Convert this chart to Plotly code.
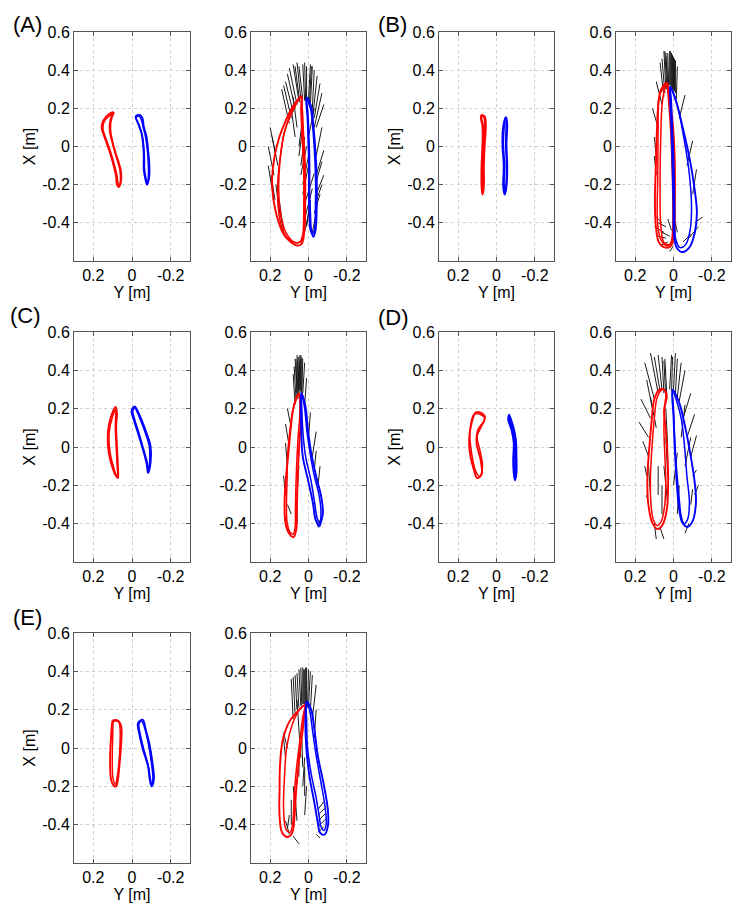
import plotly.graph_objects as go

# ---------------- data (Y [m], X [m]) ----------------
A_left_red = [
    [[0.096,0.179],[0.125,0.165],[0.151,0.130],[0.157,0.096],[0.143,0.052],[0.125,0.0],[0.108,-0.052],[0.094,-0.104],[0.082,-0.157],[0.078,-0.200],[0.068,-0.212],[0.057,-0.183],[0.057,-0.130],[0.068,-0.087],[0.082,-0.043],[0.099,0.017],[0.111,0.078],[0.111,0.122],[0.103,0.157]],
    [[0.093,0.175],[0.118,0.160],[0.145,0.128],[0.150,0.092],[0.138,0.050],[0.120,0.000],[0.104,-0.050],[0.090,-0.100],[0.078,-0.150],[0.072,-0.192],[0.064,-0.205],[0.060,-0.178],[0.062,-0.128],[0.072,-0.085],[0.086,-0.040],[0.102,0.020],[0.116,0.082],[0.115,0.125],[0.106,0.160]],
]
A_left_blue = [
    [[-0.040,0.165],[-0.019,0.157],[-0.031,0.122],[-0.049,0.070],[-0.057,0.017],[-0.061,-0.052],[-0.061,-0.122],[-0.070,-0.174],[-0.078,-0.200],[-0.089,-0.157],[-0.089,-0.087],[-0.083,-0.017],[-0.075,0.052],[-0.061,0.104],[-0.054,0.148]],
    [[-0.036,0.160],[-0.022,0.150],[-0.036,0.115],[-0.052,0.065],[-0.060,0.010],[-0.064,-0.055],[-0.065,-0.120],[-0.073,-0.170],[-0.080,-0.193],[-0.085,-0.150],[-0.084,-0.085],[-0.079,-0.015],[-0.070,0.050],[-0.058,0.100],[-0.048,0.142]],
]
A_right_red = [
    [[0.038,0.264],[0.082,0.209],[0.117,0.139],[0.151,0.052],[0.177,-0.052],[0.190,-0.174],[0.183,-0.278],[0.160,-0.383],[0.134,-0.452],[0.099,-0.496],[0.064,-0.518],[0.038,-0.513],[0.026,-0.478],[0.021,-0.400],[0.021,-0.278],[0.021,-0.157],[0.026,-0.035],[0.033,0.070],[0.038,0.191]],
    [[0.038,0.264],[0.099,0.157],[0.134,0.035],[0.151,-0.104],[0.155,-0.243],[0.143,-0.365],[0.117,-0.452],[0.073,-0.501],[0.038,-0.496],[0.021,-0.435],[0.016,-0.278],[0.017,-0.104],[0.026,0.070],[0.033,0.209]],
    [[0.040,0.255],[0.090,0.170],[0.125,0.080],[0.145,-0.040],[0.160,-0.180],[0.158,-0.320],[0.140,-0.420],[0.110,-0.480],[0.070,-0.505],[0.045,-0.500],[0.030,-0.460],[0.025,-0.350],[0.024,-0.200],[0.028,-0.050],[0.034,0.080],[0.037,0.200]],
]
A_right_blue = [
    [[0.009,0.257],[0.003,0.157],[-0.002,0.035],[-0.005,-0.104],[-0.005,-0.243],[-0.009,-0.348],[-0.014,-0.435],[-0.026,-0.473],[-0.037,-0.435],[-0.043,-0.313],[-0.043,-0.174],[-0.037,-0.035],[-0.026,0.104],[-0.014,0.209]],
    [[0.012,0.250],[0.006,0.150],[0.002,0.030],[-0.002,-0.110],[-0.001,-0.250],[-0.004,-0.350],[-0.008,-0.430],[-0.020,-0.460],[-0.030,-0.440],[-0.036,-0.320],[-0.037,-0.180],[-0.032,-0.040],[-0.022,0.100],[-0.010,0.200]],
]
A_sticks = [  # [Y0, X0, Y1, X1]
    [0.06,0.22,0.10,0.41],[0.05,0.24,0.08,0.43],[0.04,0.25,0.06,0.44],[0.03,0.25,0.05,0.42],
    [0.02,0.24,0.03,0.43],[0.01,0.25,0.01,0.42],[0.00,0.24,-0.01,0.43],[-0.01,0.22,-0.02,0.42],
    [-0.02,0.20,-0.03,0.40],[-0.03,0.15,-0.06,0.33],[-0.03,0.10,-0.07,0.28],[0.08,0.18,0.12,0.34],
    [0.10,0.12,0.14,0.30],[0.17,-0.05,0.20,0.10],[0.18,-0.15,0.21,0.00],[0.19,-0.22,0.21,-0.10],
    [0.15,-0.35,0.17,-0.20],[0.13,-0.45,0.15,-0.30],[0.02,-0.45,-0.01,-0.30],[0.02,-0.38,-0.02,-0.22],
    [0.02,-0.30,-0.03,-0.14],[0.03,-0.20,0.00,-0.05],[0.04,-0.10,0.02,0.05],[0.05,0.00,0.03,0.15],
    [-0.04,-0.05,-0.07,0.10],[-0.04,-0.15,-0.08,-0.02],[-0.04,-0.25,-0.08,-0.15],[-0.03,-0.35,-0.06,-0.25],
    [-0.02,-0.45,-0.04,-0.35],[-0.04,0.10,-0.08,0.22],[0.07,0.05,0.09,0.20],[0.00,0.05,-0.03,0.20],
    [0.07,0.20,0.11,0.38],[0.045,0.23,0.07,0.42],[0.015,0.24,0.02,0.44],[-0.005,0.23,-0.015,0.42],
    [-0.025,0.18,-0.045,0.37],[0.09,0.15,0.13,0.32],[0.01,-0.42,-0.01,-0.28],[0.03,-0.25,0.00,-0.10],
    [0.04,-0.15,0.01,0.00],[0.05,-0.05,0.03,0.10],[-0.035,-0.20,-0.07,-0.08],[-0.035,-0.30,-0.07,-0.20],
    [0.16,-0.10,0.19,0.05],[0.14,-0.40,0.16,-0.26],[0.175,-0.28,0.195,-0.15],[0.06,0.10,0.08,0.26],
]

B_left_red = [
    [[0.078,0.165],[0.061,0.157],[0.056,0.104],[0.061,0.017],[0.066,-0.104],[0.066,-0.209],[0.073,-0.252],[0.078,-0.209],[0.078,-0.104],[0.073,0.017],[0.073,0.104],[0.082,0.153]],
    [[0.075,0.160],[0.065,0.150],[0.062,0.100],[0.066,0.020],[0.070,-0.100],[0.070,-0.200],[0.074,-0.240],[0.076,-0.200],[0.074,-0.100],[0.070,0.020],[0.068,0.100],[0.078,0.150]],
]
B_left_blue = [
    [[-0.049,0.153],[-0.035,0.104],[-0.031,0.017],[-0.038,-0.104],[-0.035,-0.209],[-0.043,-0.252],[-0.052,-0.209],[-0.056,-0.104],[-0.052,0.017],[-0.056,0.104],[-0.052,0.148]],
    [[-0.045,0.148],[-0.040,0.100],[-0.036,0.020],[-0.042,-0.100],[-0.040,-0.200],[-0.046,-0.245],[-0.050,-0.200],[-0.052,-0.100],[-0.048,0.020],[-0.050,0.100],[-0.050,0.140]],
]
B_right_red = [
    [[0.035,0.334],[0.066,0.296],[0.080,0.209],[0.087,0.070],[0.092,-0.104],[0.097,-0.278],[0.092,-0.417],[0.075,-0.504],[0.040,-0.530],[0.014,-0.522],[-0.003,-0.470],[-0.007,-0.313],[-0.007,-0.104],[0.000,0.070],[0.014,0.209],[0.026,0.296]],
    [[0.035,0.334],[0.057,0.243],[0.066,0.070],[0.070,-0.191],[0.066,-0.417],[0.049,-0.504],[0.017,-0.513],[0.005,-0.452],[0.005,-0.191],[0.014,0.070],[0.026,0.243]],
    [[0.040,0.320],[0.075,0.260],[0.080,0.100],[0.082,-0.150],[0.083,-0.400],[0.065,-0.490],[0.030,-0.520],[0.008,-0.490],[0.000,-0.300],[0.003,-0.100],[0.008,0.100],[0.020,0.250]],
]
B_right_blue = [
    [[0.017,0.313],[-0.012,0.243],[-0.047,0.104],[-0.082,-0.052],[-0.108,-0.209],[-0.122,-0.348],[-0.111,-0.452],[-0.082,-0.530],[-0.047,-0.553],[-0.017,-0.530],[-0.003,-0.470],[0.000,-0.313],[0.005,-0.104],[0.010,0.070],[0.017,0.243]],
    [[0.017,0.313],[-0.021,0.209],[-0.056,0.035],[-0.082,-0.139],[-0.094,-0.313],[-0.087,-0.435],[-0.064,-0.513],[-0.035,-0.530],[-0.012,-0.487],[-0.006,-0.313],[-0.002,-0.100],[0.006,0.100],[0.012,0.250]],
]
B_sticks = [
    [0.04,0.30,0.05,0.50],[0.03,0.31,0.04,0.49],[0.02,0.32,0.02,0.50],[0.01,0.31,0.01,0.49],
    [0.00,0.30,0.00,0.47],[-0.01,0.28,-0.01,0.45],[-0.015,0.25,-0.02,0.42],[0.05,0.26,0.07,0.44],
    [0.06,0.22,0.09,0.34],[0.08,0.10,0.11,0.20],[0.09,-0.05,0.10,0.05],[0.09,-0.15,0.10,-0.05],
    [0.05,-0.45,0.10,-0.42],[0.04,-0.48,0.08,-0.47],[0.03,-0.50,0.07,-0.52],[0.06,-0.40,0.09,-0.37],
    [-0.10,-0.25,-0.12,-0.12],[-0.07,-0.10,-0.10,0.03],[-0.03,0.15,-0.06,0.27],[-0.11,-0.40,-0.15,-0.37],
    [-0.08,-0.48,-0.13,-0.42],[-0.05,-0.50,-0.09,-0.46],[0.00,-0.20,0.01,-0.05],[0.00,-0.40,0.00,-0.25],
    [0.00,-0.52,0.02,-0.55],[-0.02,-0.45,-0.01,-0.40],[0.01,0.10,0.02,0.25],
    [0.035,0.30,0.045,0.50],[0.025,0.31,0.03,0.49],[0.015,0.32,0.015,0.50],[0.005,0.30,0.005,0.48],
    [-0.005,0.29,-0.005,0.46],[0.045,0.28,0.06,0.46],[0.03,0.28,0.035,0.47],[0.00,0.27,-0.01,0.45],
    [0.04,-0.42,0.08,-0.40],[0.02,-0.47,0.06,-0.45],[0.01,-0.44,0.03,-0.38],
]

C_left_red = [
    [[0.085,0.209],[0.108,0.160],[0.125,0.073],[0.120,-0.031],[0.103,-0.101],[0.082,-0.153],[0.073,-0.162],[0.073,-0.101],[0.078,0.003],[0.082,0.108],[0.078,0.177]],
    [[0.082,0.200],[0.100,0.160],[0.118,0.075],[0.114,-0.025],[0.098,-0.095],[0.080,-0.150],[0.076,-0.150],[0.077,-0.095],[0.082,0.005],[0.086,0.105],[0.084,0.170]],
]
C_left_blue = [
    [[-0.014,0.212],[0.002,0.191],[-0.009,0.143],[-0.031,0.073],[-0.057,-0.014],[-0.075,-0.083],[-0.083,-0.136],[-0.096,-0.083],[-0.096,0.003],[-0.075,0.073],[-0.049,0.143],[-0.026,0.195]],
    [[-0.016,0.205],[-0.004,0.188],[-0.015,0.140],[-0.036,0.072],[-0.060,-0.012],[-0.078,-0.078],[-0.086,-0.125],[-0.091,-0.080],[-0.090,0.000],[-0.070,0.070],[-0.045,0.138],[-0.024,0.188]],
]
C_right_red = [
    [[0.050,0.278],[0.073,0.230],[0.090,0.125],[0.103,-0.014],[0.117,-0.153],[0.125,-0.292],[0.120,-0.397],[0.103,-0.449],[0.078,-0.470],[0.064,-0.431],[0.061,-0.327],[0.056,-0.153],[0.047,0.038],[0.038,0.177]],
    [[0.050,0.270],[0.080,0.200],[0.095,0.100],[0.108,-0.030],[0.112,-0.180],[0.115,-0.300],[0.112,-0.390],[0.098,-0.440],[0.080,-0.455],[0.070,-0.420],[0.068,-0.320],[0.064,-0.150],[0.055,0.040],[0.045,0.180]],
]
C_right_blue = [
    [[0.038,0.282],[0.016,0.212],[0.003,0.090],[-0.014,-0.031],[-0.040,-0.153],[-0.066,-0.257],[-0.075,-0.344],[-0.061,-0.405],[-0.057,-0.414],[-0.037,-0.379],[-0.023,-0.292],[0.003,-0.170],[0.030,-0.049],[0.038,0.090]],
    [[0.035,0.280],[0.020,0.200],[0.008,0.080],[-0.008,-0.030],[-0.030,-0.150],[-0.055,-0.250],[-0.065,-0.340],[-0.058,-0.395],[-0.045,-0.370],[-0.032,-0.290],[-0.012,-0.170],[0.015,-0.050],[0.030,0.090]],
]
C_sticks = [
    [0.06,0.28,0.07,0.46],[0.05,0.30,0.06,0.48],[0.045,0.30,0.05,0.47],[0.04,0.30,0.04,0.48],
    [0.035,0.29,0.03,0.46],[0.03,0.28,0.02,0.44],[0.07,0.22,0.08,0.38],[0.02,0.22,0.01,0.36],
    [0.055,0.27,0.045,0.45],[0.065,0.25,0.075,0.42],[0.10,0.00,0.12,0.12],[0.11,-0.10,0.12,0.02],
    [0.12,-0.25,0.13,-0.15],[0.11,-0.42,0.09,-0.47],[0.00,0.05,-0.01,0.18],[-0.02,-0.05,-0.04,0.08],
    [-0.05,-0.20,-0.06,-0.10],[-0.06,-0.38,-0.05,-0.42],[0.06,-0.25,0.05,-0.10],[0.06,-0.40,0.06,-0.30],
    [0.09,0.10,0.11,0.20],[0.09,-0.35,0.11,-0.30],[-0.03,-0.12,-0.04,-0.02],
    [0.05,0.29,0.055,0.47],[0.04,0.29,0.045,0.48],[0.06,0.26,0.065,0.46],[0.035,0.27,0.035,0.47],
    [0.045,0.28,0.04,0.46],[0.055,0.25,0.06,0.44],
]

D_left_red = [
    [[0.108,0.181],[0.130,0.125],[0.143,0.038],[0.136,-0.049],[0.118,-0.118],[0.101,-0.162],[0.078,-0.144],[0.083,-0.066],[0.104,0.021],[0.096,0.090],[0.066,0.134],[0.061,0.160],[0.087,0.181]],
    [[0.118,0.169],[0.139,0.073],[0.130,-0.031],[0.108,-0.127],[0.087,-0.153],[0.073,-0.101],[0.087,-0.014],[0.101,0.056],[0.078,0.108],[0.061,0.151],[0.096,0.174]],
]
D_left_blue = [
    [[-0.066,0.169],[-0.061,0.143],[-0.078,0.090],[-0.090,0.021],[-0.087,-0.066],[-0.090,-0.136],[-0.096,-0.174],[-0.104,-0.136],[-0.104,-0.049],[-0.101,0.038],[-0.087,0.108],[-0.073,0.151]],
    [[-0.064,0.165],[-0.068,0.130],[-0.082,0.085],[-0.094,0.020],[-0.092,-0.070],[-0.094,-0.130],[-0.098,-0.165],[-0.101,-0.130],[-0.100,-0.050],[-0.097,0.030],[-0.082,0.105],[-0.070,0.145]],
]
D_right_red = [
    [[0.075,0.299],[0.101,0.247],[0.115,0.125],[0.127,-0.014],[0.136,-0.153],[0.132,-0.292],[0.110,-0.397],[0.083,-0.428],[0.057,-0.405],[0.035,-0.327],[0.028,-0.188],[0.031,-0.049],[0.040,0.090],[0.049,0.195],[0.035,0.264],[0.049,0.299]],
    [[0.060,0.300],[0.085,0.260],[0.100,0.150],[0.112,0.000],[0.120,-0.150],[0.118,-0.290],[0.105,-0.380],[0.085,-0.410],[0.065,-0.390],[0.048,-0.320],[0.040,-0.190],[0.045,-0.050],[0.050,0.100],[0.045,0.220],[0.040,0.280],[0.050,0.300]],
]
D_right_blue = [
    [[0.005,0.299],[-0.030,0.230],[-0.064,0.090],[-0.090,-0.049],[-0.111,-0.188],[-0.117,-0.292],[-0.099,-0.388],[-0.073,-0.417],[-0.047,-0.397],[-0.030,-0.327],[-0.017,-0.188],[-0.007,-0.014],[0.000,0.160]],
    [[0.005,0.295],[-0.038,0.160],[-0.056,0.021],[-0.070,-0.153],[-0.083,-0.292],[-0.073,-0.379],[-0.055,-0.400],[-0.040,-0.360],[-0.028,-0.250],[-0.015,-0.100],[-0.006,0.050],[0.000,0.200]],
]
D_sticks = [
    [0.10,0.25,0.15,0.44],[0.08,0.28,0.12,0.49],[0.06,0.30,0.08,0.48],[0.05,0.28,0.06,0.47],
    [0.04,0.25,0.05,0.45],[0.02,0.30,0.01,0.48],[0.00,0.30,-0.01,0.49],[-0.01,0.28,-0.02,0.46],
    [-0.03,0.24,-0.06,0.40],[-0.05,0.15,-0.09,0.28],[-0.07,0.05,-0.11,0.17],[-0.09,-0.05,-0.12,0.06],
    [-0.10,-0.15,-0.12,-0.12],[-0.11,-0.25,-0.13,-0.20],[-0.08,-0.40,-0.06,-0.45],[0.12,0.15,0.17,0.25],
    [0.13,0.05,0.18,0.13],[0.13,-0.05,0.16,0.03],[0.14,-0.15,0.15,-0.10],[0.13,-0.30,0.14,-0.25],
    [0.10,-0.40,0.09,-0.48],[0.07,-0.42,0.05,-0.48],[0.03,-0.30,0.05,-0.10],[0.03,-0.15,0.04,0.05],
    [0.03,0.00,0.04,0.20],[0.00,-0.20,-0.02,-0.03],[-0.02,-0.35,-0.03,-0.20],[0.06,-0.35,0.06,-0.20],
    [0.11,0.20,0.14,0.35],[0.09,0.10,0.12,0.26],[-0.04,0.05,-0.06,0.22],[-0.06,-0.10,-0.09,0.05],
    [0.12,-0.25,0.13,-0.10],[0.08,-0.25,0.08,-0.10],[-0.09,-0.30,-0.10,-0.22],
    [0.07,0.29,0.10,0.47],[0.035,0.27,0.045,0.46],[0.01,0.29,0.005,0.47],[-0.02,0.26,-0.04,0.44],
]

E_left_red = [
    [[0.099,0.143],[0.073,0.143],[0.056,0.113],[0.056,0.026],[0.064,-0.078],[0.073,-0.165],[0.082,-0.200],[0.090,-0.200],[0.108,-0.165],[0.113,-0.043],[0.108,0.061],[0.103,0.130]],
    [[0.095,0.138],[0.070,0.138],[0.062,0.105],[0.062,0.020],[0.068,-0.080],[0.078,-0.160],[0.085,-0.190],[0.098,-0.160],[0.102,-0.045],[0.100,0.060],[0.098,0.120]],
]
E_left_blue = [
    [[-0.054,0.148],[-0.031,0.130],[-0.037,0.078],[-0.057,-0.009],[-0.083,-0.096],[-0.092,-0.165],[-0.101,-0.200],[-0.113,-0.165],[-0.106,-0.078],[-0.089,0.026],[-0.071,0.096],[-0.061,0.139]],
    [[-0.050,0.140],[-0.036,0.125],[-0.042,0.075],[-0.062,-0.010],[-0.085,-0.095],[-0.095,-0.160],[-0.102,-0.190],[-0.108,-0.160],[-0.100,-0.075],[-0.084,0.025],[-0.068,0.095]],
]
E_right_red = [
    [[0.016,0.226],[0.056,0.191],[0.099,0.139],[0.134,0.043],[0.148,-0.078],[0.151,-0.217],[0.151,-0.357],[0.137,-0.443],[0.108,-0.464],[0.085,-0.443],[0.073,-0.357],[0.064,-0.217],[0.047,-0.043],[0.030,0.096],[0.021,0.183]],
    [[0.020,0.220],[0.047,0.200],[0.082,0.130],[0.113,0.009],[0.125,-0.148],[0.130,-0.322],[0.117,-0.426],[0.096,-0.440],[0.082,-0.391],[0.075,-0.252],[0.062,-0.100],[0.045,0.040],[0.030,0.160]],
]
E_right_blue = [
    [[0.009,0.243],[-0.014,0.200],[-0.031,0.096],[-0.049,-0.043],[-0.078,-0.183],[-0.101,-0.322],[-0.101,-0.409],[-0.083,-0.452],[-0.061,-0.443],[-0.049,-0.391],[-0.031,-0.287],[-0.005,-0.148],[0.012,0.009],[0.016,0.148]],
    [[0.012,0.240],[-0.005,0.200],[-0.020,0.100],[-0.040,-0.040],[-0.065,-0.180],[-0.088,-0.320],[-0.092,-0.400],[-0.080,-0.430],[-0.065,-0.410],[-0.055,-0.350],[-0.040,-0.260],[-0.015,-0.140],[0.005,0.000],[0.010,0.150]],
]
E_sticks = [
    [0.08,0.15,0.09,0.36],[0.06,0.20,0.07,0.38],[0.04,0.22,0.05,0.41],[0.03,0.23,0.03,0.42],
    [0.02,0.23,0.02,0.41],[0.01,0.22,0.01,0.42],[0.00,0.22,-0.01,0.40],[-0.01,0.20,-0.02,0.38],
    [-0.02,0.15,-0.04,0.33],[0.11,0.00,0.13,0.08],[0.12,-0.05,0.13,0.05],[0.04,-0.05,0.05,0.10],
    [0.03,-0.20,0.02,-0.05],[0.02,-0.35,0.01,-0.20],[0.07,-0.30,0.08,-0.20],[0.09,-0.40,0.09,-0.27],
    [0.08,-0.46,0.05,-0.50],[-0.05,-0.32,-0.08,-0.28],[-0.05,-0.35,-0.09,-0.31],[-0.05,-0.38,-0.09,-0.34],
    [-0.05,-0.41,-0.09,-0.37],[-0.05,-0.44,-0.08,-0.41],[-0.04,-0.45,-0.06,-0.47],[-0.03,0.05,-0.04,0.20],
    [0.05,0.10,0.06,0.25],[0.10,-0.45,0.12,-0.38],[0.11,-0.42,0.10,-0.35],
    [0.05,0.21,0.06,0.39],[0.035,0.22,0.04,0.42],[0.015,0.22,0.015,0.42],[0.025,0.23,0.025,0.41],
    [0.005,0.21,0.00,0.41],[0.07,0.18,0.08,0.37],[0.03,-0.10,0.035,0.05],[0.02,-0.25,0.02,-0.10],
    [0.05,-0.15,0.05,0.00],[0.06,-0.38,0.07,-0.25],
]

panel_labels = ["(A)", "(B)", "(C)", "(D)", "(E)"]
y_ticks = [-0.4, -0.2, 0, 0.2, 0.4, 0.6]
y_ticktext = ["-0.4", "-0.2", "0", "0.2", "0.4", "0.6"]
x_ticks = [0.2, 0, -0.2]
x_ticktext = ["0.2", "0", "-0.2"]

# ---------------- figure ----------------
W, H = 739, 910
cols_px = [(74, 190), (251, 366), (439, 554), (616, 731)]
rows_px = [(32, 261), (332, 562), (633, 863)]
panel_pos = [(0, 0), (2, 0), (0, 1), (2, 1), (0, 2)]  # (first col, row)
label_pos = [(11, 24), (376, 24), (8, 315), (376, 317), (11, 617)]

panels = [
    (A_left_red, A_left_blue, A_right_red, A_right_blue, A_sticks),
    (B_left_red, B_left_blue, B_right_red, B_right_blue, B_sticks),
    (C_left_red, C_left_blue, C_right_red, C_right_blue, C_sticks),
    (D_left_red, D_left_blue, D_right_red, D_right_blue, D_sticks),
    (E_left_red, E_left_blue, E_right_red, E_right_blue, E_sticks),
]

RED, BLUE = "#ff0000", "#0000ff"
fig = go.Figure()


def add_loops(loops, color, k):
    for j, pts in enumerate(loops):
        xs = [p[0] for p in pts] + [pts[0][0]]
        ys = [p[1] for p in pts] + [pts[0][1]]
        fig.add_trace(go.Scatter(
            x=xs, y=ys, mode="lines",
            line=dict(color=color, width=1.9 if j == 0 else 1.5, shape="spline", smoothing=1.0),
            xaxis="x" if k == 1 else f"x{k}", yaxis="y" if k == 1 else f"y{k}",
            showlegend=False, hoverinfo="skip"))


def add_sticks(sticks, k):
    xs, ys = [], []
    for s in sticks:
        xs += [s[0], s[2], None]
        ys += [s[1], s[3], None]
    fig.add_trace(go.Scatter(
        x=xs, y=ys, mode="lines", line=dict(color="#1a1a1a", width=1),
        xaxis=f"x{k}", yaxis=f"y{k}", showlegend=False, hoverinfo="skip"))


FONT = "Liberation Sans, Arial, sans-serif"
axis_common = dict(
    automargin=False,
    showline=True, linecolor="#555555", linewidth=1, mirror="ticks",
    ticks="inside", ticklen=4, tickcolor="#555555",
    showgrid=True, gridcolor="#cfcfcf", griddash="dot", gridwidth=1,
    zeroline=False, tickfont=dict(family=FONT, size=16, color="black"),
)

layout = {}
for i, (lr, lb, rr, rb, st) in enumerate(panels):
    c0, r = panel_pos[i]
    for side in range(2):
        k = 2 * i + 1 + side
        cx = cols_px[c0 + side]
        ry = rows_px[r]
        if side == 0:
            add_loops(lr, RED, k)
            add_loops(lb, BLUE, k)
        else:
            add_sticks(st, k)
            add_loops(rr, RED, k)
            add_loops(rb, BLUE, k)
        xname = "xaxis" if k == 1 else f"xaxis{k}"
        yname = "yaxis" if k == 1 else f"yaxis{k}"
        layout[xname] = dict(
            axis_common, domain=[cx[0] / W, cx[1] / W], anchor="y" if k == 1 else f"y{k}",
            range=[0.3, -0.3], tickvals=x_ticks, ticktext=x_ticktext,
            title=dict(text="Y [m]", font=dict(family=FONT, size=16, color="black"), standoff=0),
        )
        ydict = dict(
            axis_common, domain=[1 - ry[1] / H, 1 - ry[0] / H], anchor="x" if k == 1 else f"x{k}",
            range=[-0.6, 0.6], tickvals=y_ticks, ticktext=y_ticktext,
        )
        if side == 0:
            ydict["title"] = dict(text="X [m]", font=dict(family=FONT, size=16, color="black"), standoff=2)
        layout[yname] = ydict

annotations = []
for lab, (px, py) in zip(panel_labels, label_pos):
    annotations.append(dict(
        text=lab, x=px / W, y=1 - py / H, xref="paper", yref="paper",
        xanchor="left", yanchor="middle", showarrow=False,
        font=dict(family=FONT, size=22, color="black")))

fig.update_layout(
    width=W, height=H, autosize=False,
    margin=dict(l=0, r=0, t=0, b=0, autoexpand=False),
    paper_bgcolor="white", plot_bgcolor="white",
    annotations=annotations, **layout)

fig.write_html(
    "out.html",
    config={"displayModeBar": False},
    post_script=(
        "document.documentElement.style.margin='0';document.documentElement.style.padding='0';"
        "document.body.style.margin='0';document.body.style.padding='0';document.body.style.overflow='hidden';"
        "var gd=document.getElementById('{plot_id}');gd.style.position='absolute';gd.style.left='0px';gd.style.top='0px';"
    ),
)
